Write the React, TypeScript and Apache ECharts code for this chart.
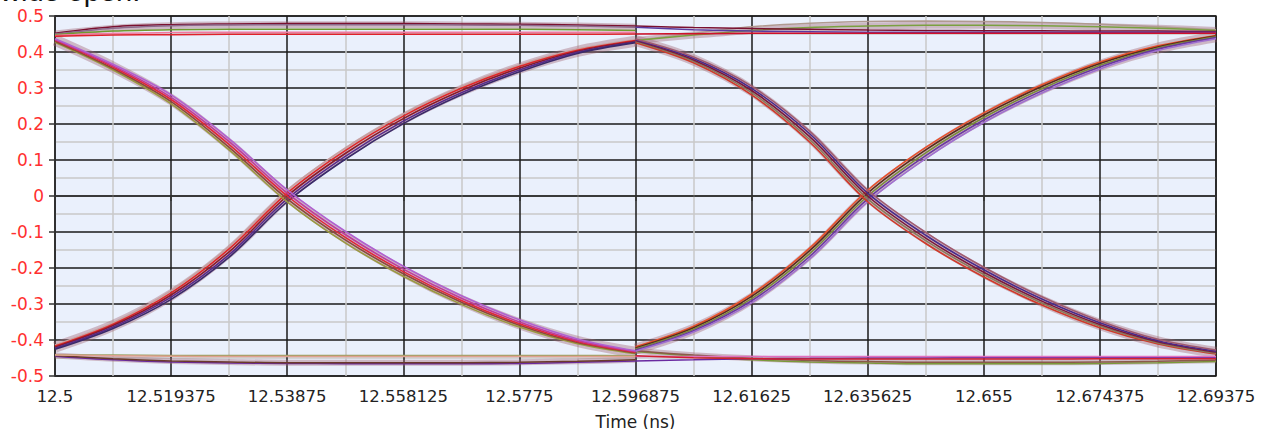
import React, { useEffect, useRef } from "react";
import * as echarts from "echarts";

// Time origin of the window (ns)
const T0 = 12.5;

// Sample times (ns) for the two unit intervals shown
const timesUI1 = [12.5, 12.5096875, 12.519375, 12.5290625, 12.53875, 12.5484375, 12.558125, 12.5678125, 12.5775, 12.5871875, 12.596875];
const timesUI2 = [12.596875, 12.6065625, 12.61625, 12.6259375, 12.635625, 12.6453125, 12.655, 12.6646875, 12.674375, 12.6840625, 12.69375];

// Rising edges, first unit interval (V)
const rise1a = [-0.414, -0.352, -0.263, -0.140, 0.016, 0.133, 0.228, 0.304, 0.364, 0.408, 0.434];
const rise1b = [-0.417, -0.356, -0.269, -0.147, 0.008, 0.126, 0.222, 0.299, 0.360, 0.405, 0.432];
const rise1c = [-0.420, -0.360, -0.275, -0.155, 0.000, 0.118, 0.215, 0.293, 0.355, 0.402, 0.430];
const rise1d = [-0.423, -0.364, -0.281, -0.163, -0.008, 0.110, 0.208, 0.287, 0.350, 0.399, 0.428];
const rise1e = [-0.426, -0.368, -0.287, -0.170, -0.016, 0.102, 0.201, 0.281, 0.345, 0.396, 0.426];

// Falling edges, first unit interval (V)
const fall1a = [0.427, 0.350, 0.256, 0.128, -0.016, -0.130, -0.223, -0.301, -0.364, -0.410, -0.438];
const fall1b = [0.430, 0.354, 0.262, 0.135, -0.008, -0.122, -0.216, -0.295, -0.359, -0.407, -0.436];
const fall1c = [0.433, 0.358, 0.268, 0.143, 0.000, -0.115, -0.210, -0.290, -0.355, -0.404, -0.434];
const fall1d = [0.435, 0.362, 0.274, 0.151, 0.008, -0.107, -0.203, -0.284, -0.350, -0.401, -0.432];
const fall1e = [0.437, 0.366, 0.281, 0.159, 0.017, -0.098, -0.195, -0.277, -0.344, -0.397, -0.430];

// Rising edges, second unit interval (V)
const rise2a = [-0.419, -0.362, -0.273, -0.145, 0.016, 0.135, 0.231, 0.309, 0.372, 0.417, 0.446];
const rise2b = [-0.422, -0.366, -0.279, -0.152, 0.008, 0.128, 0.225, 0.304, 0.368, 0.414, 0.444];
const rise2c = [-0.425, -0.370, -0.285, -0.160, 0.000, 0.120, 0.218, 0.298, 0.363, 0.411, 0.442];
const rise2d = [-0.428, -0.374, -0.291, -0.168, -0.008, 0.112, 0.211, 0.292, 0.358, 0.408, 0.440];
const rise2e = [-0.431, -0.378, -0.297, -0.175, -0.016, 0.104, 0.204, 0.286, 0.353, 0.404, 0.437];

// Falling edges, second unit interval (V)
const fall2a = [0.426, 0.370, 0.281, 0.150, -0.016, -0.132, -0.225, -0.303, -0.366, -0.411, -0.439];
const fall2b = [0.429, 0.374, 0.287, 0.157, -0.008, -0.124, -0.218, -0.297, -0.361, -0.408, -0.437];
const fall2c = [0.432, 0.378, 0.293, 0.165, 0.000, -0.117, -0.212, -0.292, -0.357, -0.405, -0.434];
const fall2d = [0.434, 0.382, 0.299, 0.173, 0.008, -0.109, -0.205, -0.286, -0.352, -0.402, -0.431];
const fall2e = [0.436, 0.386, 0.305, 0.180, 0.016, -0.101, -0.198, -0.280, -0.347, -0.398, -0.428];

// High level runs, first unit interval (V)
const high1a = [0.452, 0.470, 0.476, 0.478, 0.479, 0.479, 0.479, 0.478, 0.477, 0.475, 0.472];
const high1b = [0.450, 0.466, 0.473, 0.475, 0.476, 0.476, 0.476, 0.475, 0.474, 0.472, 0.469];
const high1c = [0.448, 0.458, 0.462, 0.463, 0.463, 0.463, 0.463, 0.463, 0.463, 0.462, 0.460];
const high1d = [0.446, 0.452, 0.454, 0.455, 0.455, 0.455, 0.455, 0.455, 0.455, 0.455, 0.455];
const high1e = [0.444, 0.447, 0.448, 0.449, 0.449, 0.449, 0.449, 0.449, 0.449, 0.449, 0.450];

// High level runs, second unit interval (V)
const high2a = [0.432, 0.452, 0.470, 0.480, 0.485, 0.486, 0.485, 0.482, 0.477, 0.470, 0.462];
const high2b = [0.432, 0.447, 0.460, 0.468, 0.472, 0.474, 0.474, 0.473, 0.470, 0.466, 0.460];
const high2c = [0.472, 0.468, 0.465, 0.463, 0.461, 0.460, 0.459, 0.459, 0.458, 0.458, 0.457];
const high2d = [0.469, 0.462, 0.458, 0.456, 0.455, 0.455, 0.455, 0.455, 0.455, 0.455, 0.455];
const high2e = [0.450, 0.451, 0.452, 0.452, 0.452, 0.452, 0.452, 0.452, 0.452, 0.452, 0.452];

// Low level runs, first unit interval (V)
const low1a = [-0.445, -0.455, -0.461, -0.464, -0.465, -0.466, -0.466, -0.466, -0.465, -0.462, -0.458];
const low1b = [-0.443, -0.452, -0.458, -0.461, -0.463, -0.463, -0.463, -0.463, -0.462, -0.459, -0.455];
const low1c = [-0.441, -0.442, -0.443, -0.443, -0.443, -0.443, -0.443, -0.443, -0.443, -0.443, -0.444];
const low1d = [-0.442, -0.444, -0.445, -0.446, -0.446, -0.446, -0.446, -0.446, -0.446, -0.446, -0.446];

// Low level runs, second unit interval (V)
const low2a = [-0.432, -0.445, -0.455, -0.461, -0.464, -0.466, -0.466, -0.466, -0.465, -0.463, -0.460];
const low2b = [-0.430, -0.442, -0.451, -0.457, -0.460, -0.462, -0.462, -0.462, -0.461, -0.459, -0.456];
const low2c = [-0.458, -0.455, -0.452, -0.451, -0.450, -0.450, -0.449, -0.449, -0.449, -0.449, -0.448];
const low2d = [-0.446, -0.446, -0.446, -0.446, -0.446, -0.446, -0.446, -0.446, -0.446, -0.446, -0.446];
const low2e = [-0.444, -0.449, -0.452, -0.453, -0.453, -0.453, -0.453, -0.453, -0.452, -0.452, -0.452];

// Trace list: [times, values, colour, width]
const halo = "rgba(160,100,115,0.4)";
const traces: [number[], number[], string, number][] = [
  [timesUI1, high1b, halo, 7],
  [timesUI2, high2b, halo, 7],
  [timesUI1, low1b, halo, 6],
  [timesUI2, low2b, halo, 6],
  [timesUI1, rise1c, halo, 11],
  [timesUI1, fall1c, halo, 11],
  [timesUI2, rise2c, halo, 11],
  [timesUI2, fall2c, halo, 11],
  [timesUI1, high1a, "#7a1030", 1.5],
  [timesUI1, high1b, "#8c6a8c", 1.5],
  [timesUI1, high1c, "#6f9a2e", 1.5],
  [timesUI1, high1d, "#f07aa0", 1.5],
  [timesUI1, high1e, "#e0202a", 1.5],
  [timesUI2, high2a, "#b09a90", 1.5],
  [timesUI2, high2b, "#7aa040", 1.5],
  [timesUI2, high2c, "#7a1030", 1.5],
  [timesUI2, high2d, "#5a3aa0", 1.5],
  [timesUI2, high2e, "#d0102a", 1.5],
  [timesUI1, low1a, "#6a2aa0", 1.5],
  [timesUI1, low1b, "#6a3a2a", 1.5],
  [timesUI1, low1c, "#9aa060", 1.5],
  [timesUI1, low1d, "#e0a090", 1.5],
  [timesUI2, low2a, "#7a9a3a", 1.5],
  [timesUI2, low2b, "#8a5a4a", 1.5],
  [timesUI2, low2c, "#6a2aa0", 1.5],
  [timesUI2, low2d, "#e070c0", 1.5],
  [timesUI2, low2e, "#d02030", 1.5],
  [timesUI1, rise1a, "#c8a0a0", 1.6],
  [timesUI1, rise1b, "#e02828", 1.6],
  [timesUI1, rise1c, "#8a1a2a", 1.6],
  [timesUI1, rise1d, "#5a2a8a", 1.6],
  [timesUI1, rise1e, "#3a2a6a", 1.6],
  [timesUI1, fall1a, "#9a9a40", 1.6],
  [timesUI1, fall1b, "#8a4a3a", 1.6],
  [timesUI1, fall1c, "#e02838", 1.6],
  [timesUI1, fall1d, "#c03a9a", 1.6],
  [timesUI1, fall1e, "#b060d0", 1.6],
  [timesUI2, rise2a, "#e8502a", 1.6],
  [timesUI2, rise2b, "#5a2a1a", 1.6],
  [timesUI2, rise2c, "#7a8a3a", 1.6],
  [timesUI2, rise2d, "#6a3aa0", 1.6],
  [timesUI2, rise2e, "#a070d0", 1.6],
  [timesUI2, fall2a, "#d03a2a", 1.6],
  [timesUI2, fall2b, "#8a7a5a", 1.6],
  [timesUI2, fall2c, "#7a1a3a", 1.6],
  [timesUI2, fall2d, "#4a2a8a", 1.6],
  [timesUI2, fall2e, "#a05a70", 1.6],
];

const FONT = "'DejaVu Sans', Verdana, sans-serif";
const fmtTime = (v: number) => String(Math.round((v + T0) * 1e7) / 1e7);

export default function App() {
  const ref = useRef<HTMLDivElement>(null);
  useEffect(() => {
    if (!ref.current) return;
    const chart = echarts.init(ref.current, undefined, { renderer: "svg" });
    const series = traces.map(([ts, vs, color, width]) => ({
      type: "line",
      data: ts.map((t, i) => [t - T0, vs[i]]),
      smooth: 0.33,
      showSymbol: false,
      symbol: "none",
      lineStyle: { color, width },
      silent: true,
    }));
    chart.setOption({
      animation: false,
      graphic: [
        {
          type: "text",
          left: 0,
          top: -24,
          style: { text: "wide open.", font: "29px 'Liberation Sans', Arial, sans-serif", fill: "#111" },
        },
      ],
      grid: {
        left: 55,
        right: 49,
        top: 16,
        bottom: 53,
        containLabel: false,
        outerBoundsMode: "none",
        show: true,
        backgroundColor: "#eaf0fc",
        borderColor: "#333",
        borderWidth: 1.5,
      },
      xAxis: {
        type: "value",
        min: 0,
        max: 0.19375,
        interval: 0.019375,
        name: "Time (ns)",
        nameLocation: "middle",
        nameGap: 37,
        nameTextStyle: { color: "#222", fontSize: 17, fontFamily: FONT },
        axisLine: { show: true, lineStyle: { color: "#333", width: 1.5 } },
        axisTick: { show: true, length: 5, lineStyle: { color: "#333", width: 1.5 } },
        axisLabel: {
          color: "#222",
          fontSize: 16.5,
          fontFamily: FONT,
          margin: 12,
          formatter: fmtTime,
        },
        splitLine: { show: true, lineStyle: { color: "#1a1a1a", width: 1.5 } },
        minorTick: { show: false, splitNumber: 2 },
        minorSplitLine: { show: true, lineStyle: { color: "#c8c8c8", width: 1.5 } },
      },
      yAxis: {
        type: "value",
        min: -0.5,
        max: 0.5,
        interval: 0.1,
        axisLine: { show: true, lineStyle: { color: "#333", width: 1.5 } },
        axisTick: { show: true, length: 6, lineStyle: { color: "#333", width: 1.5 } },
        axisLabel: {
          color: "#ff3030",
          fontSize: 17,
          fontFamily: FONT,
          margin: 11,
        },
        splitLine: { show: true, lineStyle: { color: "#1a1a1a", width: 1.5 } },
        minorTick: { show: false, splitNumber: 2 },
        minorSplitLine: { show: true, lineStyle: { color: "#c8c8c8", width: 1.5 } },
      },
      series,
    });
    return () => chart.dispose();
  }, []);
  return <div ref={ref} style={{ width: 1265, height: 429, position: "absolute", left: 0, top: 0 }} />;
}
